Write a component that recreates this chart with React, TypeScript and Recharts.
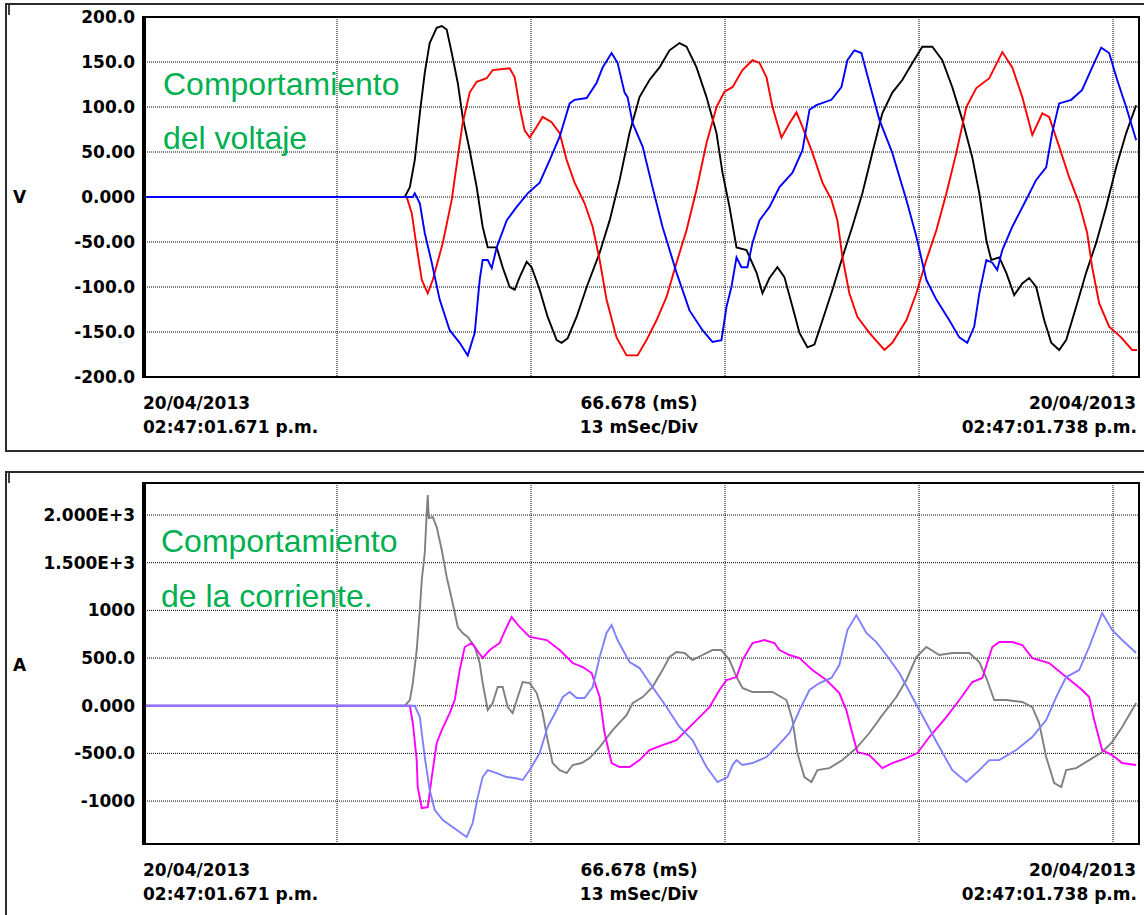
import React from 'react'
import { LineChart, Line, XAxis, YAxis, CartesianGrid } from 'recharts'

// time in ms
const gridTimes = [0, 13, 26, 39, 52, 65]

const voltTicks = [-200, -150, -100, -50, 0, 50, 100, 150, 200]
const voltTickText = ['-200.0', '-150.0', '-100.0', '-50.00', '0.000', '50.00', '100.0', '150.0', '200.0']

const ampTicks = [-1000, -500, 0, 500, 1000, 1500, 2000]
const ampTickText = ['-1000', '-500.0', '0.000', '500.0', '1000', '1.500E+3', '2.000E+3']

const voltageA: [number, number][] = [
  [0, 0], [17.54, 0], [17.88, 11], [18.21, 41], [18.55, 93], [18.88, 138], [19.21, 171], [19.68, 188],
  [20.02, 190], [20.35, 186], [20.69, 160], [21.09, 127], [21.42, 89], [21.89, 52], [22.36, 11],
  [22.76, -33], [23.1, -56], [23.7, -56], [24.1, -78], [24.57, -100], [24.91, -103], [25.24, -89],
  [25.71, -72], [26.04, -78], [26.58, -103], [27.11, -133], [27.72, -159], [28.05, -162], [28.45, -157],
  [29.06, -133], [29.73, -100], [30.6, -62], [31.27, -26], [31.94, 19], [32.6, 71], [33.27, 111],
  [33.94, 130], [34.61, 144], [35.28, 163], [35.95, 171], [36.42, 167], [37.09, 144], [37.76, 111],
  [38.43, 71], [38.83, 27], [39.3, -11], [39.77, -56], [40.44, -59], [41.11, -84], [41.51, -107],
  [41.98, -90], [42.51, -78], [42.98, -89], [43.52, -122], [43.99, -151], [44.52, -167], [44.99, -164],
  [45.53, -137], [46.2, -103], [46.87, -67], [47.53, -33], [48.2, 4], [48.87, 49], [49.54, 93],
  [50.21, 116], [50.88, 130], [51.55, 149], [52.22, 167], [52.89, 167], [53.56, 152], [54.23, 122],
  [54.9, 86], [55.57, 44], [56.04, 4], [56.51, -48], [56.84, -70], [57.38, -67], [57.84, -84],
  [58.38, -109], [58.92, -96], [59.38, -90], [59.85, -100], [60.39, -137], [60.86, -162], [61.39, -170],
  [61.86, -159], [62.53, -122], [63.2, -84], [63.87, -51], [64.54, -11], [65.21, 33], [65.88, 71],
  [66.55, 102],
]

const voltageB: [number, number][] = [
  [0, 0], [17.67, 0], [18.01, -18], [18.34, -56], [18.68, -92], [19.08, -107], [19.42, -92], [20.09, -51],
  [20.69, -3], [21.09, 44], [21.42, 82], [21.89, 116], [22.36, 128], [23.03, 132], [23.43, 141],
  [24.57, 143], [24.91, 133], [25.24, 100], [25.57, 74], [25.91, 66], [26.38, 78], [26.78, 89],
  [27.38, 83], [27.92, 71], [28.39, 41], [28.92, 16], [29.59, -7], [30.13, -33], [30.6, -70],
  [31.06, -114], [31.73, -156], [32.4, -176], [33.14, -176], [33.74, -159], [34.41, -137], [35.08, -111],
  [35.75, -73], [36.42, -37], [37.09, 8], [37.76, 60], [38.43, 100], [38.96, 117], [39.5, 122],
  [40.17, 141], [40.84, 152], [41.31, 149], [41.78, 133], [42.18, 100], [42.78, 66], [43.32, 82],
  [43.79, 94], [44.19, 78], [44.86, 49], [45.53, 16], [46.13, -3], [46.53, -26], [46.87, -67],
  [47.33, -107], [47.87, -133], [48.67, -151], [49.68, -170], [50.21, -162], [51.15, -137], [51.82, -107],
  [52.49, -70], [53.16, -37], [53.83, 4], [54.5, 49], [55.17, 100], [55.84, 121], [56.71, 132],
  [57.58, 161], [58.25, 144], [58.92, 111], [59.59, 69], [60.26, 93], [60.72, 89], [61.39, 56],
  [62.06, 22], [62.73, -7], [63.27, -40], [63.6, -78], [64.07, -118], [64.74, -144], [65.54, -156],
  [66.28, -170], [66.61, -170],
]

const voltageC: [number, number][] = [
  [0, 0], [18.08, 0], [18.21, 4], [18.55, -7], [18.88, -40], [19.35, -73], [19.88, -114], [20.55, -148],
  [21.22, -162], [21.76, -176], [22.23, -151], [22.56, -92], [22.76, -70], [23.1, -70], [23.37, -79],
  [23.7, -56], [24.37, -26], [25.04, -11], [25.78, 4], [26.58, 16], [27.25, 41], [27.92, 67],
  [28.59, 104], [28.92, 108], [29.73, 110], [30.4, 127], [30.8, 144], [31.4, 160], [31.8, 149],
  [32.27, 116], [32.47, 111], [32.81, 82], [33.48, 56], [34.14, 11], [34.81, -33], [35.75, -84],
  [36.62, -126], [37.49, -148], [38.16, -161], [38.76, -159], [39.1, -122], [39.43, -100], [39.77, -67],
  [40.1, -78], [40.5, -78], [40.84, -51], [41.31, -26], [41.98, -11], [42.65, 11], [43.52, 27],
  [44.19, 52], [44.66, 97], [45.12, 102], [46.13, 108], [46.8, 122], [47.2, 152], [47.67, 163],
  [48.14, 160], [48.67, 127], [49.34, 86], [50.21, 49], [51.15, -3], [51.82, -44], [52.49, -92],
  [53.16, -114], [54.03, -137], [54.7, -156], [55.23, -162], [55.7, -144], [56.04, -107], [56.51, -70],
  [56.91, -73], [57.24, -81], [57.58, -59], [58.25, -33], [59.18, -3], [59.85, 19], [60.52, 33],
  [60.92, 71], [61.39, 104], [62.2, 108], [62.93, 119], [63.6, 144], [64.21, 166], [64.74, 160],
  [65.28, 130], [65.88, 100], [66.55, 63],
]

const currentA: [number, number][] = [
  [0, 0], [17.54, 0], [17.88, 60], [18.08, 238], [18.34, 584], [18.55, 1004], [18.68, 1319], [18.88, 1602],
  [19.01, 2021], [19.08, 2210], [19.15, 1969], [19.42, 1979], [19.68, 1874], [20.02, 1633], [20.35, 1350],
  [20.75, 1077], [21.09, 826], [21.42, 763], [21.76, 721], [22.23, 616], [22.56, 448], [22.76, 238],
  [23.1, -45], [23.43, 28], [23.77, 196], [24.1, 196], [24.44, -14], [24.77, -77], [25.11, 91],
  [25.44, 249], [25.91, 238], [26.38, 133], [26.78, -77], [27.11, -360], [27.45, -601], [27.92, -675],
  [28.39, -706], [28.79, -622], [29.39, -601], [29.93, -549], [30.6, -433], [31.47, -255], [32.4, -98],
  [32.81, 28], [33.48, 91], [34.14, 196], [34.81, 374], [35.28, 511], [35.75, 563], [36.29, 553],
  [36.82, 479], [37.49, 532], [38.16, 584], [38.76, 584], [39.3, 479], [39.77, 301], [40.17, 186],
  [40.84, 144], [41.51, 144], [42.18, 144], [43.12, 60], [43.52, -150], [43.85, -496], [44.32, -748],
  [44.79, -800], [45.19, -675], [45.99, -654], [46.87, -570], [47.8, -444], [48.67, -286], [49.54, -98],
  [50.48, 91], [51.15, 270], [51.82, 511], [52.49, 616], [53.36, 532], [54.23, 553], [55.37, 553],
  [56.04, 458], [56.51, 291], [57.04, 60], [57.84, 60], [58.92, 39], [59.59, -14], [60.05, -181],
  [60.52, -538], [61.06, -811], [61.53, -853], [61.86, -675], [62.53, -654], [63.4, -570], [64.27, -486],
  [64.94, -381], [65.61, -223], [66.55, 28],
]

const currentB: [number, number][] = [
  [0, 0], [17.88, 0], [18.08, -181], [18.34, -570], [18.41, -853], [18.68, -1073], [19.08, -1063],
  [19.35, -748], [19.68, -391], [20.02, -255], [20.55, -77], [20.89, 60], [21.22, 374], [21.56, 616],
  [22.03, 658], [22.76, 500], [23.23, 584], [23.9, 658], [24.37, 826], [24.7, 930], [25.24, 826],
  [25.91, 721], [27.05, 689], [27.92, 584], [28.79, 448], [29.46, 406], [30.06, 343], [30.6, 91],
  [30.93, -286], [31.4, -601], [31.94, -643], [32.6, -643], [33.27, -570], [33.94, -465], [34.81, -412],
  [35.75, -360], [36.42, -255], [37.29, -119], [37.96, -14], [38.63, 165], [39.1, 270], [39.77, 301],
  [40.17, 479], [40.84, 658], [41.64, 689], [42.31, 658], [42.65, 584], [43.32, 532], [43.99, 500],
  [44.86, 374], [45.79, 270], [46.66, 133], [47.13, -45], [47.47, -255], [47.87, -486], [48.67, -517],
  [49.54, -654], [50.21, -601], [51.15, -549], [51.89, -496], [52.69, -328], [53.83, -119], [54.7, 60],
  [55.57, 249], [56.24, 291], [56.91, 616], [57.38, 668], [58.25, 668], [58.92, 637], [59.59, 500],
  [60.72, 448], [61.86, 301], [62.93, 165], [63.4, 91], [63.74, -150], [64.27, -465], [64.94, -517],
  [65.61, -601], [66.55, -622],
]

const currentC: [number, number][] = [
  [0, 0], [18.21, 0], [18.55, -119], [18.88, -538], [19.21, -884], [19.55, -1094], [20.09, -1199],
  [21.02, -1304], [21.69, -1377], [22.09, -1230], [22.43, -958], [22.76, -748], [23.1, -675], [23.7, -706],
  [24.37, -748], [24.91, -758], [25.44, -779], [25.91, -675], [26.58, -496], [27.11, -223], [27.72, -45],
  [28.12, 91], [28.59, 144], [29.06, 81], [29.59, 81], [30.13, 196], [30.6, 511], [31.06, 763],
  [31.4, 847], [31.8, 689], [32.27, 553], [32.6, 458], [33.27, 395], [34.14, 196], [35.08, -14],
  [35.95, -223], [36.82, -360], [37.76, -643], [38.5, -800], [39.17, -748], [39.5, -622], [39.77, -570],
  [40.17, -622], [40.84, -601], [41.78, -538], [42.45, -433], [43.32, -286], [43.99, -45], [44.66, 165],
  [45.33, 238], [46.13, 291], [46.66, 427], [47.2, 794], [47.8, 951], [48.47, 763], [49.14, 668],
  [49.81, 532], [50.68, 343], [51.55, 91], [52.49, -181], [53.36, -433], [54.23, -675], [55.17, -800],
  [56.04, -675], [56.71, -570], [57.38, -570], [58.51, -465], [59.59, -328], [60.52, -150], [61.19, 91],
  [61.86, 301], [62.73, 374], [63.4, 616], [64.27, 972], [64.94, 794], [65.61, 689], [66.55, 553],
]

const toPoints = (pairs: [number, number][]) => pairs.map(([t, v]) => ({ t, v }))

const labelFont = { fontFamily: 'DejaVu Sans', fontWeight: 'bold', fontSize: 17, fill: '#000' } as const

interface Trace {
  name: string
  points: [number, number][]
  color: string
}

interface ScopeProps {
  top: number
  height: number
  marginTop: number
  marginBottom: number
  domain: [number, number]
  ticks: number[]
  tickText: string[]
  traces: Trace[]
}

const Scope: React.FC<ScopeProps> = ({ top, height, marginTop, marginBottom, domain, ticks, tickText, traces }) => (
  <div style={{ position: 'absolute', left: 0, top, width: 1144, height }}>
    <LineChart width={1144} height={height} margin={{ top: marginTop, right: 5, bottom: marginBottom, left: 0 }}>
      <CartesianGrid
        stroke="#000"
        strokeDasharray="1 1"
        horizontalValues={ticks}
        verticalValues={gridTimes}
      />
      <XAxis dataKey="t" type="number" domain={[0, 66.74]} ticks={gridTimes} allowDataOverflow hide />
      <YAxis
        type="number"
        domain={domain}
        ticks={ticks}
        interval={0}
        allowDataOverflow
        width={143}
        axisLine={false}
        tickLine={false}
        tickSize={8}
        tickMargin={0}
        tick={labelFont}
        tickFormatter={(v: number) => tickText[ticks.indexOf(v)]}
      />
      {traces.map((tr) => (
        <Line
          key={tr.name}
          data={toPoints(tr.points)}
          dataKey="v"
          type="linear"
          stroke={tr.color}
          strokeWidth={1.9}
          dot={false}
          activeDot={false}
          isAnimationActive={false}
        />
      ))}
    </LineChart>
  </div>
)

const panelBox = (top: number, height: number): React.CSSProperties => ({
  position: 'absolute',
  left: 5,
  top,
  width: 1160,
  height,
  border: '2px solid #2b2b2b',
  boxSizing: 'border-box',
})

const green = { fontFamily: 'Liberation Sans, Arial, sans-serif', fontSize: 32, fill: '#00b050' }

export default function App() {
  return (
    <div style={{ position: 'absolute', left: 0, top: 0, width: 1144, height: 915, overflow: 'hidden', background: '#fff' }}>
      <div style={panelBox(3, 449)} />
      <div style={panelBox(471, 470)} />
      <div style={{ position: 'absolute', left: 8, top: 5, width: 2, height: 10, background: '#444' }} />
      <div style={{ position: 'absolute', left: 8, top: 473, width: 2, height: 10, background: '#444' }} />

      <Scope
        top={0}
        height={460}
        marginTop={17}
        marginBottom={83}
        domain={[-200, 200]}
        ticks={voltTicks}
        tickText={voltTickText}
        traces={[
          { name: 'Va', points: voltageA, color: '#000000' },
          { name: 'Vb', points: voltageB, color: '#ff0000' },
          { name: 'Vc', points: voltageC, color: '#0000ff' },
        ]}
      />
      <Scope
        top={466}
        height={449}
        marginTop={17}
        marginBottom={71}
        domain={[-1450, 2336]}
        ticks={ampTicks}
        tickText={ampTickText}
        traces={[
          { name: 'Ia', points: currentA, color: '#808080' },
          { name: 'Ib', points: currentB, color: '#ff00ff' },
          { name: 'Ic', points: currentC, color: '#8080ff' },
        ]}
      />

      <svg width={1144} height={915} style={{ position: 'absolute', left: 0, top: 0, pointerEvents: 'none' }}>
        {/* plot frames */}
        <rect x={143} y={17} width={996} height={360} fill="none" stroke="#000" strokeWidth={2} />
        <line x1={144.5} y1={17} x2={144.5} y2={377} stroke="#000" strokeWidth={3} />
        <rect x={143} y={483} width={996} height={361} fill="none" stroke="#000" strokeWidth={2} />
        <line x1={144.5} y1={483} x2={144.5} y2={844} stroke="#000" strokeWidth={3} />

        <text x={13} y={203} {...labelFont}>V</text>
        <text x={13} y={671} {...labelFont}>A</text>

        <text x={163} y={95} {...green}>Comportamiento</text>
        <text x={163} y={149} {...green}>del voltaje</text>
        <text x={161} y={552} {...green}>Comportamiento</text>
        <text x={161} y={607} {...green}>de la corriente.</text>

        {[0, 467].map((dy) => (
          <g key={dy}>
            <text x={143} y={409 + dy} {...labelFont}>20/04/2013</text>
            <text x={143} y={433 + dy} {...labelFont}>02:47:01.671 p.m.</text>
            <text x={639} y={409 + dy} textAnchor="middle" {...labelFont}>66.678 (mS)</text>
            <text x={639} y={433 + dy} textAnchor="middle" {...labelFont}>13 mSec/Div</text>
            <text x={1136} y={409 + dy} textAnchor="end" {...labelFont}>20/04/2013</text>
            <text x={1137} y={433 + dy} textAnchor="end" {...labelFont}>02:47:01.738 p.m.</text>
          </g>
        ))}
      </svg>
    </div>
  )
}
